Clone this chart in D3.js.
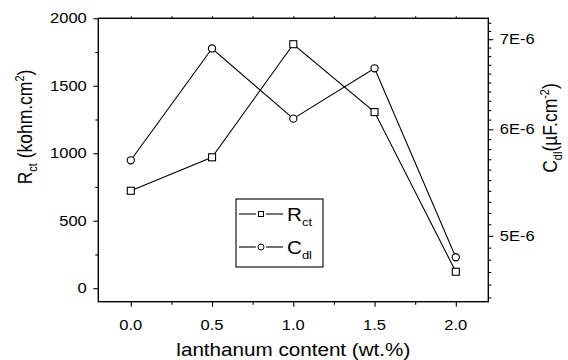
<!DOCTYPE html>
<html>
<head>
<meta charset="utf-8">
<script src="https://cdn.jsdelivr.net/npm/d3@7"></script>
<style>
  body { margin: 0; background: #fff; }
  svg { display: block; }
  text { font-family: "Liberation Sans", Arial, Helvetica, sans-serif; fill: #000; }
</style>
</head>
<body>
<svg id="chart" width="568" height="360"></svg>
<script>
// Lanthanum content (wt.%) and the two measured quantities
const lanthanum = [0.0, 0.5, 1.0, 1.5, 2.0];
const rct = [722, 970, 1808, 1305, 122];                 // kohm.cm^2
const cdl = [5.69e-6, 6.89e-6, 6.11e-6, 6.66e-6, 4.82e-6]; // uF.cm^-2

const xTicks = [0.0, 0.5, 1.0, 1.5, 2.0];
const xTickLabels = ["0.0", "0.5", "1.0", "1.5", "2.0"];
const rctTicks = [0, 500, 1000, 1500, 2000];
const rctTickLabels = ["0", "500", "1000", "1500", "2000"];
const cdlTicks = [5e-6, 6e-6, 7e-6];
const cdlTickLabels = ["5E-6", "6E-6", "7E-6"];

const plot = { left: 98.3, right: 488.3, top: 18.3, bottom: 301.7 };
const SX = 1.18;          // horizontal stretch applied to all lettering
const FONT_TICK = 14;
const FONT_TITLE = 17.5;

const svg = d3.select("#chart");

const x = d3.scaleLinear().domain([-0.2, 2.2]).range([plot.left, plot.right]);
const yL = d3.scaleLinear().domain([-100, 2000]).range([plot.bottom, plot.top]);
const yR = d3.scaleLog().domain([4.467e-6, 7.255e-6]).range([plot.bottom, plot.top]);

// Minor tick positions
const xMinor = [-0.25, 0.25, 0.75, 1.25, 1.75].filter(v => v > -0.2 && v < 2.2);
const rctMinor = [250, 750, 1250, 1750];
const cdlMinor = d3.range(45, 73).map(v => v * 1e-7)
  .filter(v => v > 4.467e-6 && v < 7.255e-6 && Math.abs(v * 1e6 - Math.round(v * 1e6)) > 1e-6);

function tickAxis(axisFn, scale, values, size, tx, ty) {
  const g = svg.append("g")
    .attr("transform", `translate(${tx},${ty})`)
    .call(axisFn(scale).tickValues(values).tickSize(size).tickFormat(""));
  g.select(".domain").remove();
  g.selectAll(".tick line").attr("stroke", "#000").attr("stroke-width", 1.1);
  return g;
}

// Bottom axis
tickAxis(d3.axisBottom, x, xTicks, 5, 0, plot.bottom);
tickAxis(d3.axisBottom, x, xMinor, 3, 0, plot.bottom);
// Top axis (ticks only)
tickAxis(d3.axisTop, x, xTicks.concat(xMinor), 2, 0, plot.top);
// Left axis
tickAxis(d3.axisLeft, yL, rctTicks, 5, plot.left, 0);
tickAxis(d3.axisLeft, yL, rctMinor, 3, plot.left, 0);
// Right axis
tickAxis(d3.axisRight, yR, cdlTicks, 5, plot.right, 0);
tickAxis(d3.axisRight, yR, cdlMinor, 3, plot.right, 0);

// Frame
svg.append("rect")
  .attr("x", plot.left).attr("y", plot.top)
  .attr("width", plot.right - plot.left).attr("height", plot.bottom - plot.top)
  .attr("fill", "none").attr("stroke", "#000").attr("stroke-width", 1.4);

// Stretched text helper
function label(px, py, opts = {}) {
  const g = svg.append("g")
    .attr("transform", `translate(${px},${py}) scale(${SX},1)` + (opts.rotate ? ` rotate(${opts.rotate})` : ""));
  return g.append("text")
    .attr("font-size", opts.size || FONT_TICK)
    .attr("text-anchor", opts.anchor || "middle");
}

// Tick labels
xTicks.forEach((v, i) => {
  label(x(v), 329.5).text(xTickLabels[i]);
});
rctTicks.forEach((v, i) => {
  label(plot.left - 11.5, yL(v) + 5, { anchor: "end" }).text(rctTickLabels[i]);
});
cdlTicks.forEach((v, i) => {
  label(plot.right + 11.5, yR(v) + 5, { anchor: "start" }).text(cdlTickLabels[i]);
});

// Axis titles
label((plot.left + plot.right) / 2, 356, { size: FONT_TITLE }).text("lanthanum content (wt.%)");

const leftTitle = label(32.3, 127, { size: FONT_TITLE, rotate: -90 });
leftTitle.append("tspan").text("R");
leftTitle.append("tspan").attr("font-size", 11).attr("dy", 4).text("ct");
leftTitle.append("tspan").attr("dy", -4).text(" (kohm.cm");
leftTitle.append("tspan").attr("font-size", 11).attr("dy", -7).text("2");
leftTitle.append("tspan").attr("dy", 7).text(")");

const rightTitle = label(557, 128, { size: FONT_TITLE, rotate: -90 });
rightTitle.append("tspan").text("C");
rightTitle.append("tspan").attr("font-size", 11).attr("dy", 4).text("dl");
rightTitle.append("tspan").attr("dy", -4).text("(\u00b5F.cm");
rightTitle.append("tspan").attr("font-size", 11).attr("dy", -7).text("-2");
rightTitle.append("tspan").attr("dy", 7).text(")");

// Series lines
const rctLine = d3.line().x((d, i) => x(lanthanum[i])).y(d => yL(d));
const cdlLine = d3.line().x((d, i) => x(lanthanum[i])).y(d => yR(d));

svg.append("path").datum(rct).attr("d", rctLine)
  .attr("fill", "none").attr("stroke", "#000").attr("stroke-width", 1.1);
svg.append("path").datum(cdl).attr("d", cdlLine)
  .attr("fill", "none").attr("stroke", "#000").attr("stroke-width", 1.1);

const MS = 7;
svg.append("g").selectAll("rect").data(rct).join("rect")
  .attr("x", (d, i) => x(lanthanum[i]) - MS / 2)
  .attr("y", d => yL(d) - MS / 2)
  .attr("width", MS).attr("height", MS)
  .attr("fill", "#fff").attr("stroke", "#000").attr("stroke-width", 1.1);
svg.append("g").selectAll("circle").data(cdl).join("circle")
  .attr("cx", (d, i) => x(lanthanum[i]))
  .attr("cy", d => yR(d))
  .attr("r", 3.6)
  .attr("fill", "#fff").attr("stroke", "#000").attr("stroke-width", 1.1);

// Legend
const lg = { x: 236, y: 199, w: 87, h: 68 };
svg.append("rect")
  .attr("x", lg.x).attr("y", lg.y).attr("width", lg.w).attr("height", lg.h)
  .attr("fill", "#fff").attr("stroke", "#000").attr("stroke-width", 1.1);

const legendRows = [
  { y: 214, kind: "square", main: "R", sub: "ct" },
  { y: 247, kind: "circle", main: "C", sub: "dl" }
];
legendRows.forEach(r => {
  svg.append("line").attr("x1", 239).attr("x2", 256).attr("y1", r.y).attr("y2", r.y)
    .attr("stroke", "#000").attr("stroke-width", 1.1);
  svg.append("line").attr("x1", 266).attr("x2", 283).attr("y1", r.y).attr("y2", r.y)
    .attr("stroke", "#000").attr("stroke-width", 1.1);
  if (r.kind === "square") {
    svg.append("rect").attr("x", 261 - 2.5).attr("y", r.y - 2.5).attr("width", 5).attr("height", 5)
      .attr("fill", "#fff").attr("stroke", "#000").attr("stroke-width", 1);
  } else {
    svg.append("circle").attr("cx", 261).attr("cy", r.y).attr("r", 3)
      .attr("fill", "#fff").attr("stroke", "#000").attr("stroke-width", 1);
  }
  const t = label(287, r.y + 6.5, { size: FONT_TITLE, anchor: "start" });
  t.append("tspan").text(r.main);
  t.append("tspan").attr("font-size", 11).attr("dy", 5).text(r.sub);
});
</script>
</body>
</html>
